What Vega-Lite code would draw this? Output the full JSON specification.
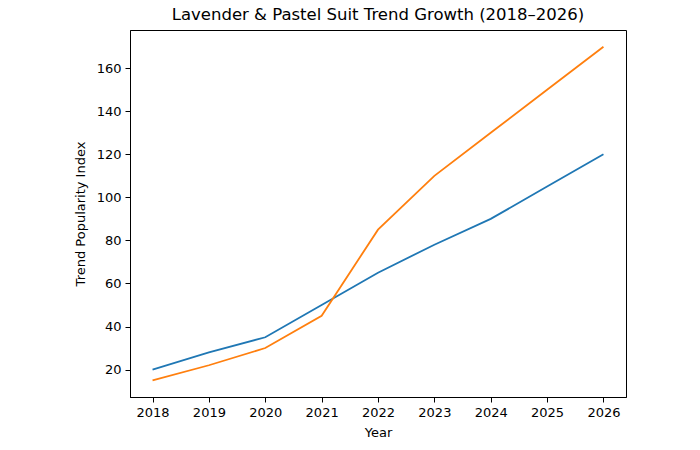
{
  "$schema": "https://vega.github.io/schema/vega-lite/v6.json",
  "width": 496,
  "height": 367,
  "autosize": {"type": "none"},
  "padding": {"left": 130, "top": 30, "right": 74, "bottom": 53},
  "background": "white",
  "title": {"text": "Lavender & Pastel Suit Trend Growth (2018–2026)", "font": "DejaVu Sans", "fontSize": 16.5, "fontWeight": "normal", "color": "black", "offset": 7, "anchor": "middle"},
  "config": {
    "view": {"stroke": "black", "strokeWidth": 1},
    "axis": {"labelFont": "DejaVu Sans", "titleFont": "DejaVu Sans", "labelFontSize": 13, "titleFontSize": 13, "titleFontWeight": "normal", "labelColor": "black", "titleColor": "black", "domainColor": "black", "tickColor": "black", "tickSize": 5, "labelPadding": 4, "grid": false}
  },
  "data": {"values": [
    {"year": 2018, "series": "Lavender", "value": 20},
    {"year": 2019, "series": "Lavender", "value": 28},
    {"year": 2020, "series": "Lavender", "value": 35},
    {"year": 2021, "series": "Lavender", "value": 50},
    {"year": 2022, "series": "Lavender", "value": 65},
    {"year": 2023, "series": "Lavender", "value": 78},
    {"year": 2024, "series": "Lavender", "value": 90},
    {"year": 2025, "series": "Lavender", "value": 105},
    {"year": 2026, "series": "Lavender", "value": 120},
    {"year": 2018, "series": "Pastel", "value": 15},
    {"year": 2019, "series": "Pastel", "value": 22},
    {"year": 2020, "series": "Pastel", "value": 30},
    {"year": 2021, "series": "Pastel", "value": 45},
    {"year": 2022, "series": "Pastel", "value": 85},
    {"year": 2023, "series": "Pastel", "value": 110},
    {"year": 2024, "series": "Pastel", "value": 130},
    {"year": 2025, "series": "Pastel", "value": 150},
    {"year": 2026, "series": "Pastel", "value": 170}
  ]},
  "mark": {"type": "line", "strokeWidth": 1.8, "clip": true},
  "encoding": {
    "x": {"field": "year", "type": "quantitative", "scale": {"domain": [2017.6, 2026.4], "nice": false, "zero": false},
          "axis": {"title": "Year", "format": "d", "values": [2018, 2019, 2020, 2021, 2022, 2023, 2024, 2025, 2026], "titlePadding": 7}},
    "y": {"field": "value", "type": "quantitative", "scale": {"domain": [7.25, 177.75], "nice": false, "zero": false},
          "axis": {"title": "Trend Popularity Index", "values": [20, 40, 60, 80, 100, 120, 140, 160], "titlePadding": 9}},
    "color": {"field": "series", "type": "nominal", "scale": {"domain": ["Lavender", "Pastel"], "range": ["#1f77b4", "#ff7f0e"]}, "legend": null}
  }
}
